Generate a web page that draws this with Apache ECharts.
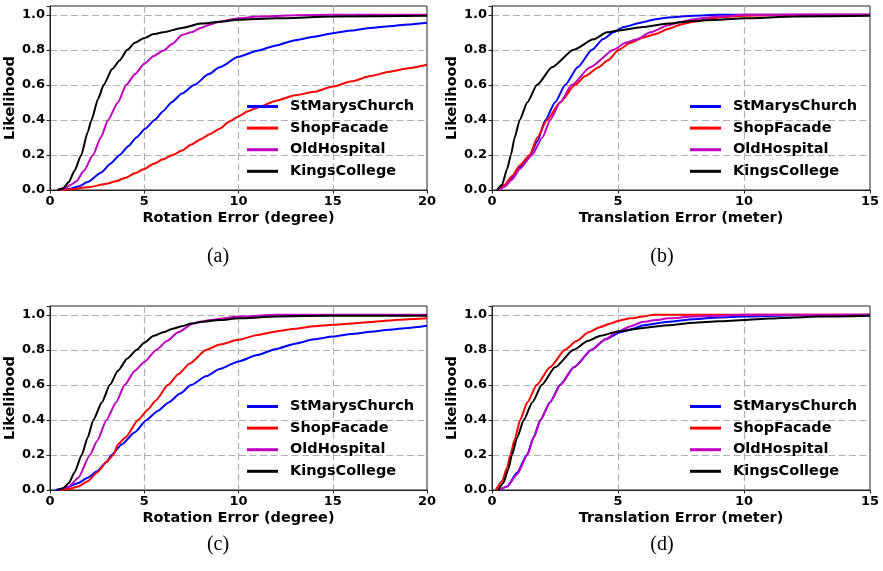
<!DOCTYPE html>
<html>
<head>
<meta charset="utf-8">
<script src="https://cdn.jsdelivr.net/npm/echarts@6/dist/echarts.min.js"></script>
<style>
  html, body { margin: 0; padding: 0; background: #fff; }
  #main { width: 883px; height: 571px; }
</style>
</head>
<body>
<div id="main"></div>
<script>
const names = ['StMarysChurch', 'ShopFacade', 'OldHospital', 'KingsCollege'];
const colors = ['#0000ff', '#ff0000', '#bf00bf', '#000000'];
const yTicks = [0, 0.2, 0.4, 0.6, 0.8, 1.0];

// (a) rotation error, degree
const aStMarys = [[0.6,0],[1,0.005],[1.5,0.02],[2,0.045],[2.72,0.1],[3.2,0.15],[3.7,0.2],[4.15,0.25],[4.58,0.3],[5.05,0.35],[5.55,0.4],[6,0.45],[6.44,0.5],[7,0.55],[7.67,0.6],[8.4,0.66],[9,0.7],[10,0.76],[11,0.795],[12,0.825],[13,0.855],[14,0.875],[15,0.895],[16,0.91],[17,0.925],[18,0.935],[19,0.945],[20,0.955]];
const aShop = [[0.5,0],[1,0.003],[2,0.015],[3,0.035],[3.5,0.05],[4,0.07],[4.5,0.095],[5,0.12],[5.5,0.15],[6,0.175],[6.5,0.2],[7,0.225],[7.5,0.26],[8,0.29],[8.5,0.32],[9,0.35],[9.5,0.39],[10,0.42],[10.5,0.45],[11,0.47],[12,0.51],[13,0.54],[14,0.56],[15,0.59],[16,0.62],[17,0.65],[18,0.675],[19,0.695],[20,0.715]];
const aOld = [[0.5,0],[0.8,0.01],[1.1,0.03],[1.4,0.05],[1.8,0.11],[2.28,0.2],[2.7,0.3],[3.08,0.4],[3.6,0.5],[4.05,0.6],[4.5,0.66],[5,0.72],[5.5,0.765],[6,0.795],[6.5,0.835],[7,0.885],[7.5,0.9],[8,0.925],[8.5,0.945],[9,0.96],[10,0.98],[11,0.99],[13,0.997],[15,1],[20,1]];
const aKings = [[0.4,0],[0.7,0.01],[1,0.045],[1.3,0.11],[1.66,0.2],[2,0.33],[2.2,0.4],[2.55,0.52],[2.85,0.6],[3.3,0.69],[3.7,0.74],[4.1,0.8],[4.5,0.84],[5,0.867],[5.5,0.89],[6,0.9],[7,0.925],[8,0.95],[9,0.96],[10,0.972],[12,0.98],[15,0.99],[20,0.995]];

// (b) translation error, meter
const bStMarys = [[0.25,0],[0.5,0.02],[0.8,0.07],[1.1,0.13],[1.52,0.2],[1.8,0.28],[2.12,0.4],[2.5,0.5],[2.91,0.6],[3.4,0.7],[3.97,0.8],[4.4,0.86],[4.83,0.9],[5.22,0.93],[5.9,0.955],[6.5,0.975],[7,0.985],[8,0.995],[9,1],[15,1]];
const bShop = [[0.25,0],[0.5,0.03],[0.8,0.08],[1.1,0.14],[1.5,0.2],[1.8,0.3],[2.18,0.4],[2.7,0.5],[3.3,0.6],[3.7,0.65],[4.23,0.7],[4.6,0.74],[5.03,0.8],[5.5,0.84],[6,0.87],[6.5,0.89],[7,0.92],[7.5,0.945],[8,0.96],[9,0.985],[10,0.995],[12,1],[15,1]];
const bOld = [[0.3,0],[0.5,0.02],[0.8,0.06],[1.1,0.12],[1.59,0.2],[2,0.3],[2.31,0.4],[2.7,0.5],[3.17,0.6],[3.9,0.7],[4.83,0.8],[5.3,0.84],[5.75,0.86],[6.28,0.9],[7,0.94],[7.5,0.96],[8,0.975],[9,0.99],[10,1],[15,1]];
const bKings = [[0.2,0],[0.4,0.03],[0.6,0.12],[0.75,0.2],[0.9,0.3],[1.1,0.4],[1.4,0.5],[1.79,0.6],[2.38,0.7],[3.24,0.8],[4.03,0.86],[4.56,0.9],[5,0.91],[6,0.93],[7,0.95],[8,0.965],[9,0.972],[10,0.98],[12,0.99],[15,0.995]];

// (c) rotation error, degree
const cStMarys = [[0.3,0],[0.8,0.01],[1.5,0.04],[2,0.07],[2.5,0.107],[3,0.16],[3.27,0.2],[3.8,0.26],[4.5,0.33],[5.12,0.4],[5.7,0.45],[6.3,0.5],[6.9,0.55],[7.5,0.6],[8.3,0.65],[9,0.69],[10,0.734],[11,0.77],[12,0.805],[13,0.835],[14,0.86],[15,0.876],[16,0.89],[17,0.903],[18,0.915],[19,0.925],[20,0.937]];
const cShop = [[0.5,0],[1,0.005],[1.5,0.02],[2,0.05],[2.5,0.1],[3,0.16],[3.36,0.2],[3.6,0.26],[4,0.3],[4.68,0.4],[5.2,0.46],[5.6,0.51],[6.27,0.6],[6.8,0.66],[7.4,0.72],[8.3,0.8],[9,0.83],[10,0.857],[11,0.885],[12,0.905],[13,0.92],[14,0.935],[15,0.943],[16,0.95],[17,0.958],[18,0.967],[19,0.975],[20,0.98]];
const cOld = [[0.5,0],[1,0.02],[1.5,0.07],[2.12,0.2],[2.5,0.28],[3,0.4],[3.5,0.5],[3.97,0.6],[4.5,0.68],[5,0.73],[5.65,0.8],[6.2,0.85],[6.8,0.9],[7.6,0.95],[8.5,0.97],[10,0.99],[12,1],[20,1]];
const cKings = [[0.4,0],[0.7,0.01],[1,0.04],[1.3,0.1],[1.68,0.2],[2,0.3],[2.3,0.4],[2.75,0.5],[3.18,0.6],[3.6,0.68],[4.1,0.75],[4.6,0.8],[5,0.84],[5.5,0.88],[6,0.9],[6.5,0.92],[7,0.935],[7.5,0.95],[8,0.96],[9,0.97],[10,0.98],[12,0.99],[15,0.995],[20,0.995]];

// (d) translation error, meter
const dStMarys = [[0.3,0],[0.6,0.02],[1,0.1],[1.39,0.2],[1.65,0.3],[1.92,0.4],[2.3,0.5],[2.71,0.6],[3.25,0.7],[3.96,0.8],[4.5,0.86],[5.09,0.9],[5.6,0.92],[6,0.94],[7,0.96],[8,0.975],[9,0.985],[10,0.99],[12,0.997],[15,1]];
const dShop = [[0.15,0],[0.4,0.05],[0.6,0.13],[0.73,0.2],[0.9,0.29],[1.12,0.4],[1.4,0.5],[1.78,0.6],[2.3,0.7],[2.9,0.8],[3.35,0.85],[3.83,0.9],[4.3,0.93],[4.7,0.95],[5,0.965],[5.5,0.98],[6,0.99],[6.4,1],[15,1]];
const dOld = [[0.3,0],[0.6,0.02],[1,0.09],[1.4,0.2],[1.66,0.3],[1.93,0.4],[2.3,0.5],[2.72,0.6],[3.25,0.7],[3.95,0.8],[4.5,0.86],[5,0.905],[5.5,0.935],[6,0.96],[6.5,0.97],[7,0.98],[8,0.99],[9,0.995],[10,1],[15,1]];
const dKings = [[0.25,0],[0.45,0.04],[0.65,0.12],[0.79,0.2],[1,0.3],[1.26,0.4],[1.6,0.5],[1.98,0.6],[2.5,0.7],[3.24,0.8],[3.8,0.85],[4.3,0.88],[5,0.905],[6,0.925],[7,0.94],[8,0.955],[9,0.963],[10,0.97],[11,0.978],[12,0.985],[13,0.99],[15,0.995]];

const panels = [
  { caption: '(a)', xName: 'Rotation Error (degree)', xMax: 20, series: [aStMarys, aShop, aOld, aKings] },
  { caption: '(b)', xName: 'Translation Error (meter)', xMax: 15, series: [bStMarys, bShop, bOld, bKings] },
  { caption: '(c)', xName: 'Rotation Error (degree)', xMax: 20, series: [cStMarys, cShop, cOld, cKings] },
  { caption: '(d)', xName: 'Translation Error (meter)', xMax: 15, series: [dStMarys, dShop, dOld, dKings] }
];

const font = 'DejaVu Sans';
const rects = [
  { left: 50, top: 6, width: 377, height: 184 },
  { left: 492, top: 6, width: 378, height: 184 },
  { left: 50, top: 306, width: 377, height: 184 },
  { left: 492, top: 306, width: 378, height: 184 }
];
const legendPos = [[247, 98.5], [690, 98.5], [247, 398.5], [690, 398.5]];
const captionPos = [[218, 257], [662, 257], [218, 545], [662, 545]];

const dashed = { color: '#b0b0b0', width: 1.2, type: [7, 3.5] };
const nameStyle = { fontFamily: font, fontWeight: 'bold', fontSize: 14.5, color: '#000' };
const tickStyle = { fontFamily: font, fontWeight: 'bold', fontSize: 13, color: '#000', margin: 5 };

const grid = [], xAxis = [], yAxis = [], legend = [], series = [], graphic = [];
panels.forEach((p, i) => {
  grid.push(Object.assign({ show: true, borderColor: '#222', borderWidth: 1, outerBoundsMode: 'none', containLabel: false }, rects[i]));
  xAxis.push({
    type: 'value', gridIndex: i, min: 0, max: p.xMax, interval: 5,
    name: p.xName, nameLocation: 'middle', nameGap: 21, nameTextStyle: nameStyle,
    axisLine: { show: true, lineStyle: { color: '#222', width: 1 } },
    axisTick: { show: true, length: 3.5, lineStyle: { color: '#222' } },
    axisLabel: tickStyle,
    splitLine: { show: true, showMinLine: false, showMaxLine: false, lineStyle: dashed }
  });
  yAxis.push({
    type: 'value', gridIndex: i, min: 0, max: 1.05, interval: 0.2,
    name: 'Likelihood', nameLocation: 'middle', nameGap: 29, nameTextStyle: nameStyle,
    axisLine: { show: true, lineStyle: { color: '#222', width: 1 } },
    axisTick: { show: true, length: 3.5, lineStyle: { color: '#222' } },
    axisLabel: Object.assign({
      formatter: v => (yTicks.some(t => Math.abs(t - v) < 1e-6) ? v.toFixed(1) : '')
    }, tickStyle),
    splitLine: { show: true, showMinLine: false, showMaxLine: false, lineStyle: dashed }
  });
  legend.push({
    data: names, orient: 'vertical', left: legendPos[i][0], top: legendPos[i][1], padding: 0,
    icon: 'rect', itemWidth: 31, itemHeight: 3, itemGap: 5.6, selectedMode: false,
    textStyle: { fontFamily: font, fontWeight: 'bold', fontSize: 14.5, color: '#000', lineHeight: 16, padding: [0, 0, 0, 7] }
  });
  p.series.forEach((d, k) => {
    series.push({
      type: 'line', name: names[k], xAxisIndex: i, yAxisIndex: i, data: d,
      showSymbol: false, smooth: 0.2, smoothMonotone: 'x', animation: false,
      color: colors[k], lineStyle: { color: colors[k], width: 2 }, z: 2 + k
    });
  });
  graphic.push({
    type: 'text', x: captionPos[i][0], y: captionPos[i][1],
    style: { text: p.caption, font: '20px "Liberation Serif"', fill: '#000', align: 'center', verticalAlign: 'middle' }
  });
});

const chart = echarts.init(document.getElementById('main'), null, { renderer: 'canvas' });
chart.setOption({
  animation: false,
  backgroundColor: '#fff',
  grid, xAxis, yAxis, legend, series, graphic
});
</script>
</body>
</html>
